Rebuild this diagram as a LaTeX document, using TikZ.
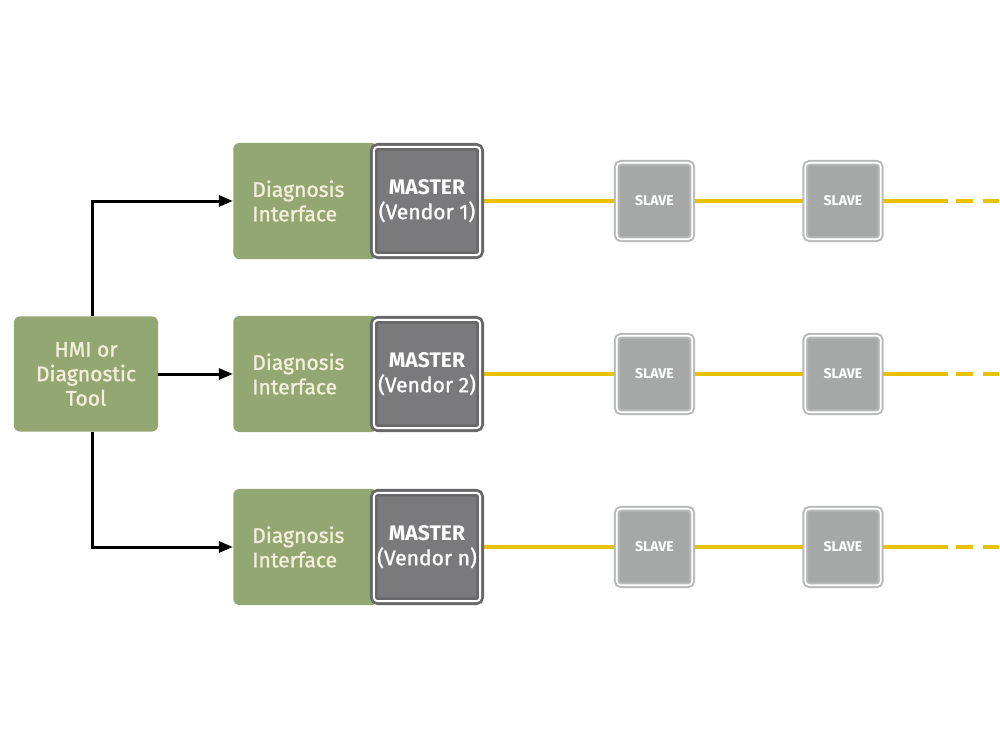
\documentclass[tikz,border=0pt]{standalone}
\usepackage{fontspec}
\setmainfont{Fira Sans}
\newfontfamily\semifont{Fira Sans}[FakeBold=1.2]
\usetikzlibrary{arrows.meta,backgrounds}

\definecolor{diaggreen}{RGB}{148,166,114}
\definecolor{cream}{RGB}{242,240,218}
\definecolor{framegray}{RGB}{104,104,106}
\definecolor{mastergray}{RGB}{122,122,124}
\definecolor{slavegray}{RGB}{166,168,167}
\definecolor{slaveedge}{RGB}{184,186,185}
\definecolor{busyellow}{RGB}{232,194,0}

\tikzset{
  greenbox/.style={fill=diaggreen, rounded corners=0.15cm, text=cream, inner sep=0pt,
    font=\semifont\fontsize{15}{17.4}\selectfont},
  diagbox/.style={greenbox, anchor=west, minimum width=3.6cm, minimum height=2.9cm,
    text width=2.65cm, align=left, inner xsep=0.475cm},
  masterbox/.style={fill=mastergray, draw=framegray, double=white, line width=0.07cm,
    double distance=0.05cm, rounded corners=0.1cm, minimum width=2.66cm, minimum height=2.71cm,
    inner sep=0pt, text=white, align=center, font=\fontsize{15}{17.4}\selectfont},
  slavebox/.style={fill=slavegray, draw=slaveedge, double=white, line width=0.05cm,
    double distance=0.04cm, rounded corners=0.1cm, minimum width=1.885cm, minimum height=1.91cm,
    text=white, font=\fontsize{10}{12}\selectfont\bfseries},
  link/.style={line width=0.075cm, -{Triangle[length=0.35cm,width=0.27cm]}},
  bus/.style={busyellow, line width=0.1cm},
}

\begin{document}
\begin{tikzpicture}[x=0.025cm, y=-0.025cm]
\useasboundingbox (0,0) rectangle (1000,750);

% outil de diagnostic
\node[greenbox, minimum width=3.6cm, minimum height=2.875cm, align=center] (hmi) at (86,374)
  {HMI or\\Diagnostic\\Tool};

% les trois lignes : interface + maitre
\node[diagbox] (diag1) at (233,201) {Diagnosis\\Interface};
\node[masterbox] (master1) at (427,201) {\textbf{MASTER}\\{\semifont(Vendor 1)}};
\node[diagbox] (diag2) at (233,374) {Diagnosis\\Interface};
\node[masterbox] (master2) at (427,374) {\textbf{MASTER}\\{\semifont(Vendor 2)}};
\node[diagbox] (diag3) at (233,547) {Diagnosis\\Interface};
\node[masterbox] (master3) at (427,547) {\textbf{MASTER}\\{\semifont(Vendor n)}};

% esclaves
\node[slavebox] (s11) at (654.5,201) {SLAVE};
\node[slavebox] (s12) at (843,201) {SLAVE};
\node[slavebox] (s21) at (654.5,374) {SLAVE};
\node[slavebox] (s22) at (843,374) {SLAVE};
\node[slavebox] (s31) at (654.5,547) {SLAVE};
\node[slavebox] (s32) at (843,547) {SLAVE};

\coordinate (end1) at (1000,201);
\coordinate (end2) at (1000,374);
\coordinate (end3) at (1000,547);

% bus jaune
\begin{scope}[on background layer]
\draw[bus] (master1.east) -- (s11.west) (s11.east) -- (s12.west);
\draw[bus] (master2.east) -- (s21.west) (s21.east) -- (s22.west);
\draw[bus] (master3.east) -- (s31.west) (s31.east) -- (s32.west);
\draw[bus, dash pattern=on 1.65cm off 0.2cm on 0.425cm off 0.25cm on 0.4cm] (s12.east) -- (end1);
\draw[bus, dash pattern=on 1.65cm off 0.2cm on 0.425cm off 0.25cm on 0.4cm] (s22.east) -- (end2);
\draw[bus, dash pattern=on 1.65cm off 0.2cm on 0.425cm off 0.25cm on 0.4cm] (s32.east) -- (end3);
\end{scope}

% fleches
\draw[link] ([xshift=0.15cm]hmi.north) |- (diag1.west);
\draw[link] (hmi.east) -- (diag2.west);
\draw[link] ([xshift=0.15cm]hmi.south) |- (diag3.west);
\end{tikzpicture}
\end{document}
